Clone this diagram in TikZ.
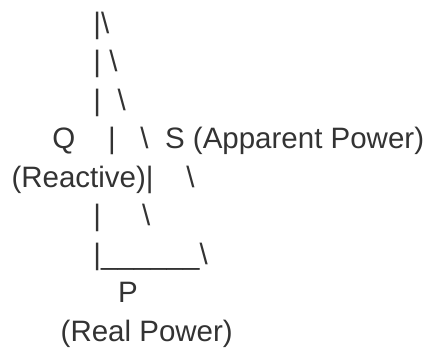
\documentclass[tikz,border=0pt]{standalone}
\usepackage{fontspec}
\setmainfont{Liberation Sans}
% n interword spaces of the current font
\newcommand\gap[1]{\hspace*{#1\fontdimen2\font}}
\definecolor{ink}{HTML}{333333}
\begin{document}
\begin{tikzpicture}[x=1pt,y=-1pt,
  row/.style={anchor=base west, inner sep=0pt, outer sep=0pt,
              font=\fontsize{29.5}{35}\selectfont, text=ink}]
\useasboundingbox (0,0) rectangle (425,348);
\def\xo{11.5}
% power triangle drawn as text rows
\node[row] (r1) at (\xo,33)  {\gap{10}\textbar\textbackslash};
\node[row] (r2) at (\xo,71.5)  {\gap{10}\textbar\gap{1}\textbackslash};
\node[row] (r3) at (\xo,110) {\gap{10}\textbar\gap{2}\textbackslash};
\node[row] (r4) at (\xo,148.5) {\gap{5}Q\gap{4}\textbar\gap{3}\textbackslash\gap{2}S (Apparent Power)};
\node[row] (r5) at (\xo,187) {(Reactive)\textbar\gap{4}\textbackslash};
\node[row] (r6) at (\xo,225.5) {\gap{10}\textbar\gap{5}\textbackslash};
\node[row] (r7) at (\xo,264) {\gap{10}\textbar\_\_\_\_\_\_\textbackslash};
\node[row] (r8) at (\xo,302.5) {\gap{13}P};
\node[row] (r9) at (\xo,341) {\gap{6}(Real Power)};
\end{tikzpicture}
\end{document}
